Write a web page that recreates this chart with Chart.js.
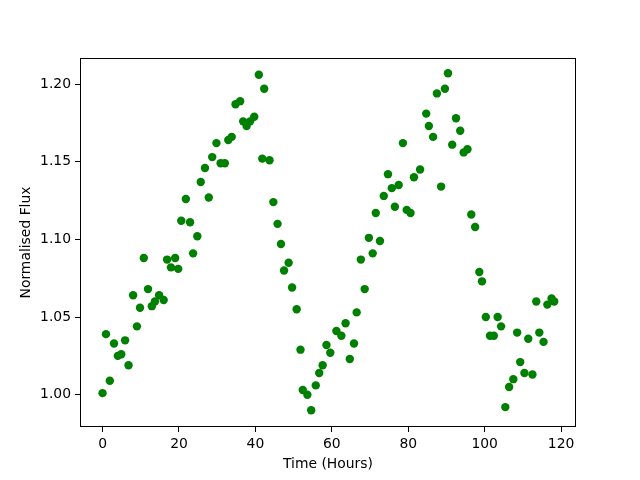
<!DOCTYPE html>
<html>
<head>
<meta charset="utf-8">
<script src="https://cdn.jsdelivr.net/npm/chart.js"></script>
<style>
  body { margin: 0; background: #fff; }
  canvas { display: block; }
</style>
</head>
<body>
<canvas id="chart" width="640" height="480"></canvas>
<script>
// light curve
const hours = [
  0.0, 0.9, 1.9, 3.0, 4.0, 4.9, 5.9, 6.8, 8.0, 9.0,
  9.8, 10.8, 11.9, 12.9, 13.7, 14.8, 16.0, 16.9, 17.9, 19.0,
  19.8, 20.6, 21.8, 22.9, 23.7, 24.8, 25.7, 26.8, 27.8, 28.7,
  29.8, 30.9, 32.0, 32.9, 33.8, 34.8, 36.0, 36.8, 37.7, 38.6,
  39.7, 40.9, 41.8, 42.3, 43.7, 44.7, 45.8, 46.7, 47.5, 48.7,
  49.6, 50.8, 51.8, 52.4, 53.6, 54.6, 55.8, 56.7, 57.6, 58.6,
  59.6, 61.2, 62.5, 63.6, 64.7, 65.8, 66.5, 67.6, 68.6, 69.7,
  70.7, 71.5, 72.6, 73.6, 74.7, 75.7, 76.5, 77.5, 78.6, 79.6,
  80.6, 81.5, 83.1, 84.7, 85.4, 86.5, 87.5, 88.6, 89.6, 90.4,
  91.5, 92.5, 93.6, 94.5, 95.5, 96.5, 97.5, 98.6, 99.3, 100.3,
  101.4, 102.4, 103.4, 104.3, 105.4, 106.4, 107.5, 108.5, 109.3, 110.4,
  111.4, 112.5, 113.5, 114.3, 115.4, 116.4, 117.5, 118.2
]
const flux = [
  1.001, 1.039, 1.009, 1.033, 1.025, 1.026, 1.035, 1.019, 1.064, 1.044,
  1.056, 1.088, 1.068, 1.057, 1.060, 1.064, 1.061, 1.087, 1.082, 1.088,
  1.081, 1.112, 1.126, 1.111, 1.091, 1.102, 1.137, 1.146, 1.127, 1.153,
  1.162, 1.149, 1.149, 1.164, 1.166, 1.187, 1.189, 1.176, 1.173, 1.176,
  1.179, 1.206, 1.152, 1.197, 1.151, 1.124, 1.110, 1.097, 1.080, 1.085,
  1.069, 1.055, 1.029, 1.003, 1.000, 0.990, 1.006, 1.014, 1.019, 1.032,
  1.027, 1.041, 1.038, 1.046, 1.023, 1.033, 1.053, 1.087, 1.068, 1.101,
  1.091, 1.117, 1.099, 1.128, 1.142, 1.133, 1.121, 1.135, 1.162, 1.119,
  1.117, 1.140, 1.145, 1.181, 1.173, 1.166, 1.194, 1.134, 1.197, 1.207,
  1.161, 1.178, 1.170, 1.156, 1.158, 1.116, 1.108, 1.079, 1.073, 1.050,
  1.038, 1.038, 1.050, 1.044, 0.992, 1.005, 1.010, 1.040, 1.021, 1.014,
  1.036, 1.013, 1.060, 1.040, 1.034, 1.058, 1.062, 1.060
]
const xTicks = [0, 20, 40, 60, 80, 100, 120]
const yTicks = [1.00, 1.05, 1.10, 1.15, 1.20]

const font = {family: 'DejaVu Sans', size: 13.9}

// matplotlib draws a box all round the axes
const frame = {
  id: 'frame',
  afterDraw(chart) {
    const a = chart.chartArea, ctx = chart.ctx
    ctx.save()
    ctx.strokeStyle = '#000'
    ctx.lineWidth = 1
    ctx.strokeRect(Math.round(a.left) + 0.5, Math.round(a.top) + 0.5,
      Math.round(a.right - a.left) - 1, Math.round(a.bottom - a.top) - 1)
    ctx.restore()
  }
}

new Chart(document.getElementById('chart'), {
  type: 'scatter',
  data: {
    datasets: [{
      data: hours.map((h, i) => ({x: h, y: flux[i]})),
      backgroundColor: '#008000',
      borderWidth: 0,
      pointRadius: 4.2,
      pointHoverRadius: 4.2
    }]
  },
  options: {
    responsive: false,
    animation: false,
    events: [],
    layout: {padding: {top: 58, right: 64, left: 0, bottom: 0}},
    plugins: {legend: {display: false}, tooltip: {enabled: false}},
    scales: {
      x: {
        min: -5.9, max: 123.9,
        afterBuildTicks: s => { s.ticks = xTicks.map(v => ({value: v})) },
        afterFit: s => { s.height = 53 },
        ticks: {color: '#000', font, padding: 4, maxRotation: 0, callback: v => String(v)},
        grid: {drawOnChartArea: false, color: '#000', tickLength: 5},
        border: {display: false},
        title: {display: true, text: 'Time (Hours)', color: '#000', font, padding: {top: 0, bottom: 7}}
      },
      y: {
        min: 0.9792, max: 1.2168,
        afterBuildTicks: s => { s.ticks = yTicks.map(v => ({value: v})) },
        afterFit: s => { s.width = 80 },
        ticks: {color: '#000', font, padding: 4, callback: v => v.toFixed(2)},
        grid: {drawOnChartArea: false, color: '#000', tickLength: 5},
        border: {display: false},
        title: {display: true, text: 'Normalised Flux', color: '#000', font, padding: {top: 18, bottom: 0}}
      }
    }
  },
  plugins: [frame]
})
</script>
</body>
</html>
